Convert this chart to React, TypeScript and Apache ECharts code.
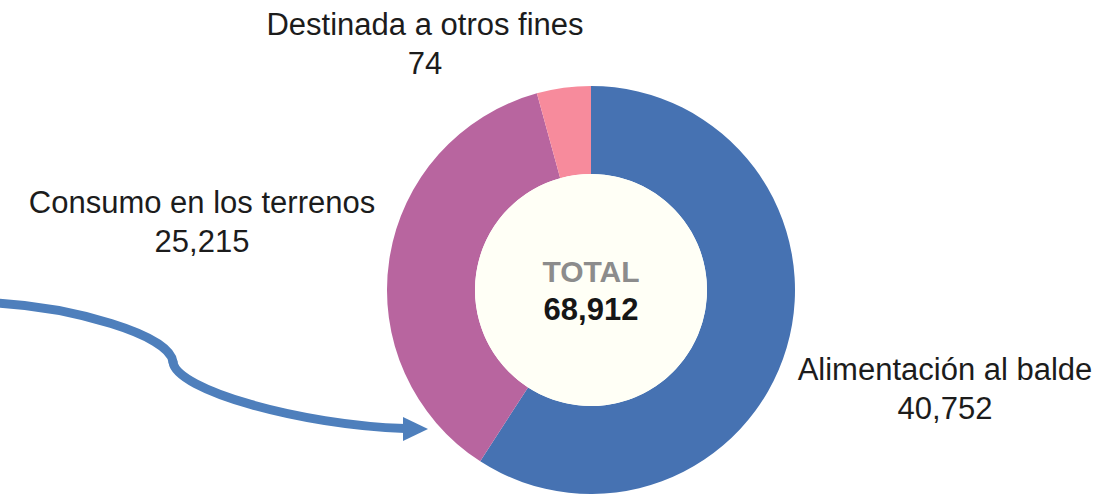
import React, { useEffect, useRef } from "react";
import * as echarts from "echarts";

const categories = ["Alimentación al balde", "Consumo en los terrenos", "Destinada a otros fines"];
const sliceValues = [40752, 25215, 2945];
const labelValues = ["40,752", "25,215", "74"];
const totalLabel = "TOTAL";
const totalValue = "68,912";
const colors = ["#4672b2", "#b8659f", "#f78b9c"];
const labelPositions = [
  [945, 389],
  [202, 222],
  [425, 44],
];

export default function App() {
  const ref = useRef<HTMLDivElement>(null);
  useEffect(() => {
    document.body.style.margin = "0";
    const chart = echarts.init(ref.current!, null, { renderer: "svg" });
    const arrowColor = "#4e7fbc";
    chart.setOption({
      animation: false,
      backgroundColor: "#ffffff",
      textStyle: { fontFamily: "Liberation Sans, Arial, sans-serif" },
      series: [
        {
          type: "pie",
          center: [591, 290],
          radius: [116, 204],
          startAngle: 90,
          clockwise: true,
          silent: true,
          itemStyle: { borderWidth: 0 },
          labelLine: { show: false },
          label: {
            show: true,
            position: "outside",
            alignTo: "none",
            overflow: "none",
            width: 400,
            fontSize: 31,
            lineHeight: 39,
            color: "#1c1c1c",
            fontFamily: "Liberation Sans, Arial, sans-serif",
            formatter: (p: any) => `${p.name}\n${labelValues[p.dataIndex]}`,
          },
          labelLayout: (p: any) => ({
            x: labelPositions[p.dataIndex][0],
            y: labelPositions[p.dataIndex][1],
            align: "center",
            verticalAlign: "middle",
            width: 400,
          }),
          data: categories.map((c, i) => ({
            name: c,
            value: sliceValues[i],
            itemStyle: { color: colors[i] },
          })),
        },
        {
          type: "pie",
          center: [591, 290],
          radius: [0, 116],
          silent: true,
          labelLine: { show: false },
          itemStyle: { color: "#fffff6" },
          label: {
            show: true,
            position: "center",
            formatter: () => `{t|${totalLabel}}\n{v|${totalValue}}`,
            rich: {
              t: { fontSize: 30, fontWeight: "bold", color: "#8c8c8c", lineHeight: 38, fontFamily: "Liberation Sans, Arial, sans-serif" },
              v: { fontSize: 31, fontWeight: "bold", color: "#161616", lineHeight: 38, fontFamily: "Liberation Sans, Arial, sans-serif" },
            },
          },
          data: [{ name: "total", value: 1 }],
        },
      ],
      graphic: [
        {
          type: "bezierCurve",
          shape: { x1: -4, y1: 303, cpx1: 70, cpy1: 307, cpx2: 170, cpy2: 334, x2: 173, y2: 362 },
          style: { stroke: arrowColor, lineWidth: 9, fill: "none", lineCap: "round" },
        },
        {
          type: "bezierCurve",
          shape: { x1: 173, y1: 362, cpx1: 176, cpy1: 390, cpx2: 300, cpy2: 425, x2: 405, y2: 428.5 },
          style: { stroke: arrowColor, lineWidth: 9, fill: "none", lineCap: "round" },
        },
        {
          type: "polygon",
          shape: { points: [[403, 417], [428, 429], [403, 441]] },
          style: { fill: arrowColor },
        },
      ],
    });
    return () => chart.dispose();
  }, []);
  return <div ref={ref} style={{ width: 1120, height: 497 }} />;
}
